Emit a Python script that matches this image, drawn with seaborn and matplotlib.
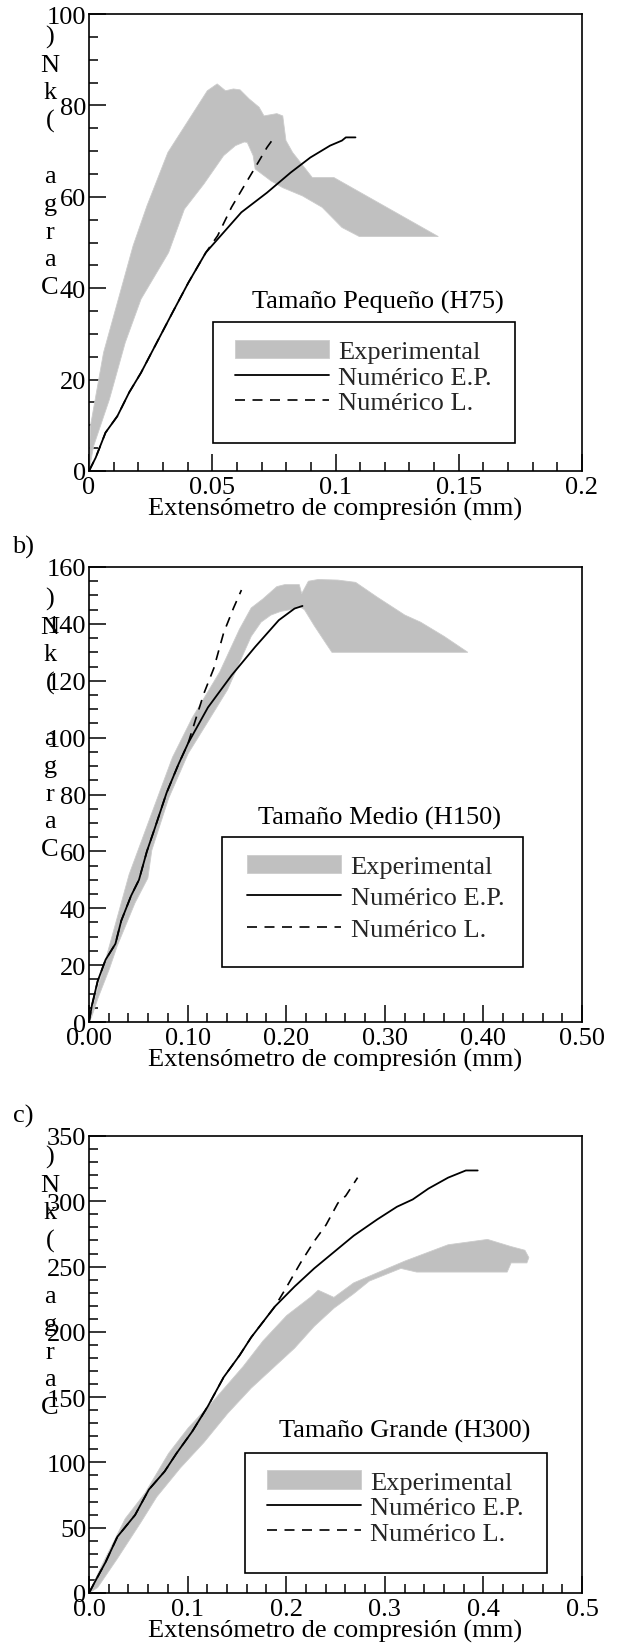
import numpy as np
import matplotlib
matplotlib.use("Agg")
import matplotlib.pyplot as plt
import seaborn as sns
from matplotlib.patches import Rectangle
from matplotlib.ticker import MultipleLocator, FixedLocator, FixedFormatter

sns.set_theme(style="white")
plt.rcParams['font.family'] = ['Liberation Serif', 'DejaVu Serif']

# ---------------- data ----------------
# Panel a) Tamaño Pequeño (H75)
p1_up_x = [0.0, 0.0006, 0.0059, 0.0179, 0.0235, 0.032, 0.048, 0.052, 0.0554, 0.0586, 0.0613, 0.065,
           0.069, 0.071, 0.0762, 0.0786, 0.0799, 0.0826, 0.0906, 0.0994, 0.1417]
p1_up_y = [0, 9.9, 25.9, 49.3, 58.0, 69.7, 83.2, 84.7, 83.2, 83.6, 83.4, 81.4,
           79.6, 77.7, 78.2, 77.7, 72.3, 69.7, 64.2, 64.2, 51.3]
p1_lo_x = [0.0, 0.0019, 0.0083, 0.0147, 0.0211, 0.0323, 0.0387, 0.0466, 0.0546, 0.0594, 0.0630,
           0.0642, 0.0666, 0.0674, 0.0738, 0.0786, 0.0866, 0.0946, 0.1026, 0.1097, 0.1417]
p1_lo_y = [0, 5.5, 15.7, 28.1, 37.6, 47.8, 57.3, 62.8, 69.0, 71.2, 72.0,
           71.9, 69.0, 66.1, 63.5, 62.0, 60.2, 57.7, 53.3, 51.3, 51.3]
p1_ep_x = [0.0, 0.0027, 0.0067, 0.0115, 0.0163, 0.0211, 0.0275, 0.0339, 0.0403, 0.0474, 0.0546,
           0.0618, 0.0722, 0.0818, 0.0898, 0.0978, 0.1026, 0.1042, 0.1081]
p1_ep_y = [0, 2.9, 8.4, 12.0, 17.2, 21.5, 28.1, 34.7, 41.2, 47.8, 52.2,
           56.6, 60.9, 65.3, 68.6, 71.2, 72.3, 73.0, 73.0]
p1_l_x = [0.0, 0.0027, 0.0067, 0.0115, 0.0163, 0.0211, 0.0275, 0.0339, 0.0403, 0.0474, 0.0522,
          0.0578, 0.0634, 0.0674, 0.0722, 0.0746]
p1_l_y = [0, 2.9, 8.4, 12.0, 17.2, 21.5, 28.1, 34.7, 41.2, 47.8, 51.5,
          57.7, 62.8, 66.4, 70.8, 72.6]

# Panel b) Tamaño Medio (H150)
p2_up_x = [0.0, 0.0048, 0.0208, 0.0407, 0.0647, 0.0847, 0.1046, 0.1326, 0.1526, 0.1645, 0.1765,
           0.1905, 0.1985, 0.2133, 0.2157, 0.2225, 0.2324, 0.2524, 0.2704, 0.2923, 0.3203,
           0.3363, 0.3602, 0.3842]
p2_up_y = [0, 6.9, 26.9, 51.9, 74.4, 93.1, 106.9, 123.1, 138.1, 145.6, 148.8,
           153.1, 153.8, 153.8, 150.6, 155.0, 155.6, 155.4, 154.6, 149.4, 143.1,
           140.6, 135.6, 130.0]
p2_lo_x = [0.0, 0.0028, 0.0088, 0.0208, 0.0288, 0.0467, 0.0597, 0.0637, 0.0807, 0.1006, 0.1206,
           0.1406, 0.1565, 0.1645, 0.1745, 0.1845, 0.1945, 0.2045, 0.2125, 0.2185, 0.2284,
           0.2404, 0.2464, 0.3842]
p2_lo_y = [0, 1.9, 8.1, 18.8, 26.9, 41.9, 50.6, 60.4, 78.6, 94.4, 105.6,
           116.9, 129.4, 135.6, 140.6, 143.1, 144.4, 145.0, 146.3, 145.0, 139.4,
           133.1, 130.0, 130.0]
p2_ep_x = [0.0, 0.0028, 0.0088, 0.0168, 0.0268, 0.0327, 0.0427, 0.0507, 0.0587, 0.0667, 0.0787,
           0.0907, 0.1006, 0.1206, 0.1446, 0.1685, 0.1925, 0.2085, 0.2165]
p2_ep_y = [0, 5.6, 14.4, 21.9, 27.5, 35.6, 44.4, 50.0, 60.0, 68.1, 80.6,
           90.6, 98.1, 110.6, 121.9, 131.9, 141.3, 145.4, 146.3]
p2_l_x = [0.0, 0.0028, 0.0088, 0.0168, 0.0268, 0.0327, 0.0427, 0.0507, 0.0587, 0.0667, 0.0787,
          0.0907, 0.1006, 0.1086, 0.1166, 0.1266, 0.1366, 0.1466, 0.1546]
p2_l_y = [0, 5.6, 14.4, 21.9, 27.5, 35.6, 44.4, 50.0, 60.0, 68.1, 80.6,
          90.6, 98.1, 106.9, 115.6, 124.4, 136.9, 145.6, 151.9]

# Panel c) Tamaño Grande (H300)
p3_up_x = [0.0, 0.0128, 0.0367, 0.0567, 0.0807, 0.1006, 0.1246, 0.1565, 0.1765, 0.2005, 0.2244,
           0.2324, 0.2404, 0.2484, 0.2684, 0.3203, 0.3642, 0.4042, 0.4281, 0.4421, 0.4461, 0.4441]
p3_up_y = [0, 20.8, 56.9, 76.4, 106.9, 126.4, 145.8, 173.6, 193.1, 212.5, 226.4,
           231.9, 229.2, 226.4, 237.5, 254.2, 266.7, 270.8, 265.3, 262.5, 256.9, 252.8]
p3_lo_x = [0.0, 0.0088, 0.0288, 0.0527, 0.0687, 0.0927, 0.1166, 0.1406, 0.1645, 0.1885, 0.2085,
           0.2284, 0.2484, 0.2684, 0.2843, 0.3163, 0.3323, 0.4241, 0.4281]
p3_lo_y = [0, 4.2, 26.4, 54.2, 73.6, 95.8, 115.3, 137.5, 156.9, 173.6, 187.5,
           204.2, 218.1, 229.2, 238.9, 248.6, 245.8, 245.8, 252.8]
p3_ep_x = [0.0, 0.0068, 0.0168, 0.0288, 0.0467, 0.0607, 0.0767, 0.0887, 0.1046, 0.1206, 0.1366,
           0.1526, 0.1645, 0.1885, 0.2085, 0.2284, 0.2484, 0.2684, 0.2923, 0.3123, 0.3283,
           0.3442, 0.3642, 0.3822, 0.3942]
p3_ep_y = [0, 9.7, 23.6, 43.1, 59.7, 79.2, 93.1, 106.9, 123.6, 143.1, 165.3,
           181.9, 195.8, 219.4, 234.7, 248.6, 261.1, 273.6, 286.1, 295.8, 301.4,
           309.7, 318.1, 323.6, 323.6]
p3_l_x = [0.0, 0.0068, 0.0168, 0.0288, 0.0467, 0.0607, 0.0767, 0.0887, 0.1046, 0.1206, 0.1366,
          0.1526, 0.1645, 0.1885, 0.1985, 0.2145, 0.2284, 0.2404, 0.2524, 0.2604, 0.2724]
p3_l_y = [0, 9.7, 23.6, 43.1, 59.7, 79.2, 93.1, 106.9, 123.6, 143.1, 165.3,
          181.9, 195.8, 219.4, 231.9, 252.8, 269.4, 281.9, 298.6, 304.2, 318.1]

series_names = ["Experimental", "Numérico E.P.", "Numérico L."]
titles = ["Tamaño Pequeño (H75)", "Tamaño Medio (H150)", "Tamaño Grande (H300)"]
panel_tags = ["", "b)", "c)"]
x_ticklabels = [["0", "0.05", "0.1", "0.15", "0.2"],
                ["0.00", "0.10", "0.20", "0.30", "0.40", "0.50"],
                ["0.0", "0.1", "0.2", "0.3", "0.4", "0.5"]]
y_ticks = [[0, 20, 40, 60, 80, 100],
           [0, 20, 40, 60, 80, 100, 120, 140, 160],
           [0, 50, 100, 150, 200, 250, 300, 350]]
x_label = "Extensómetro de compresión (mm)"
y_label = "Carga (kN)"

# ---------------- layout ----------------
W, H = 617, 1649
fig = plt.figure(figsize=(W / 100, H / 100), dpi=100)
GRAY = '#c0c0c0'
FS = 19
TFS = 19

cfg = [
    dict(box=(89, 15, 582, 472), xlim=(0, 0.2), ylim=(0, 100), xmaj=0.05, xmin=0.01, ymin=5,
         data=(p1_up_x, p1_up_y, p1_lo_x, p1_lo_y, p1_ep_x, p1_ep_y, p1_l_x, p1_l_y),
         title_xy=(0.586, 0.372), rect=(0.2516, 0.062, 0.612, 0.264), leg_xy=(0.296, 0.287),
         lsp=0.08, ylab_off=11),
    dict(box=(89, 568, 582, 1023), xlim=(0, 0.5), ylim=(0, 160), xmaj=0.1, xmin=0.02, ymin=5,
         data=(p2_up_x, p2_up_y, p2_lo_x, p2_lo_y, p2_ep_x, p2_ep_y, p2_l_x, p2_l_y),
         title_xy=(0.589, 0.449), rect=(0.269, 0.12, 0.611, 0.286), leg_xy=(0.321, 0.368),
         lsp=0.3, ylab_off=20),
    dict(box=(89, 1137, 582, 1594), xlim=(0, 0.5), ylim=(0, 350), xmaj=0.1, xmin=0.02, ymin=10,
         data=(p3_up_x, p3_up_y, p3_lo_x, p3_lo_y, p3_ep_x, p3_ep_y, p3_l_x, p3_l_y),
         title_xy=(0.641, 0.355), rect=(0.317, 0.044, 0.613, 0.262), leg_xy=(0.361, 0.269),
         lsp=0.08, ylab_off=9),
]

for i, c in enumerate(cfg):
    l, t, r, b = c['box']
    ax = fig.add_axes([l / W, 1 - b / H, (r - l) / W, (b - t) / H])
    ux, uy, lx, ly, ex, ey, nx, ny = c['data']
    # experimental band as polygon (upper edge then lower edge backwards)
    bx = list(ux) + list(lx)[::-1]
    by = list(uy) + list(ly)[::-1]
    ax.fill(bx, by, color=GRAY, lw=0.6, ec='#cccccc', label=series_names[0], zorder=1)
    sns.lineplot(x=ex, y=ey, ax=ax, color='black', lw=1.3, sort=False, estimator=None,
                 label=series_names[1], zorder=3)
    sns.lineplot(x=nx, y=ny, ax=ax, color='black', lw=1.2, sort=False, estimator=None,
                 label=series_names[2], zorder=4)
    ax.lines[-1].set_linestyle((0, (6, 4.5)))

    ax.set_xlim(*c['xlim'])
    ax.set_ylim(*c['ylim'])
    xt = x_ticklabels[i]
    xticks = [c['xlim'][0] + k * c['xmaj'] for k in range(len(xt))]
    ax.xaxis.set_major_locator(FixedLocator(xticks))
    ax.xaxis.set_major_formatter(FixedFormatter(xt))
    ax.xaxis.set_minor_locator(MultipleLocator(c['xmin']))
    ax.yaxis.set_major_locator(FixedLocator(y_ticks[i]))
    ax.yaxis.set_major_formatter(FixedFormatter([str(v) for v in y_ticks[i]]))
    ax.yaxis.set_minor_locator(MultipleLocator(c['ymin']))
    ax.tick_params(which='both', direction='in', bottom=True, left=True, top=False, right=False,
                   color='black', width=1.1)
    ax.tick_params(which='major', length=12, labelsize=TFS, labelcolor='black')
    ax.tick_params(axis='x', which='major', pad=3.5)
    ax.tick_params(axis='y', which='major', pad=2)
    ax.tick_params(which='minor', length=6.5)
    for s in ax.spines.values():
        s.set_visible(True)
        s.set_color('black')
        s.set_linewidth(1.2)
    ax.set_xlabel(x_label, fontsize=FS, color='black', labelpad=-1)
    ax.set_ylabel("")
    ax.set_facecolor('white')

    # title inside axes
    ax.text(c['title_xy'][0], c['title_xy'][1], titles[i], transform=ax.transAxes,
            ha='center', va='center', fontsize=FS, color='black')
    # legend frame
    rx, ry, rw, rh = c['rect']
    ax.add_patch(Rectangle((rx, ry), rw, rh, transform=ax.transAxes, fill=False,
                           ec='black', lw=1.2, zorder=5))
    handles, labels = ax.get_legend_handles_labels()
    order = [labels.index(n) for n in series_names]
    ax.legend([handles[k] for k in order], [labels[k] for k in order],
              loc='upper left', bbox_to_anchor=c['leg_xy'], bbox_transform=ax.transAxes,
              frameon=False, fontsize=FS, borderpad=0, borderaxespad=0,
              handlelength=3.56, handleheight=0.7, handletextpad=0.36,
              labelspacing=c['lsp'])

    # stacked y-label characters (as in the reference)
    fig.text(50 / W, 1 - (t + c['ylab_off']) / H, "\n".join(y_label[::-1]), ha='center', va='top',
             fontsize=FS, color='black', linespacing=1.33)
    if panel_tags[i]:
        fig.text(23 / W, 1 - (t - 21) / H, panel_tags[i], ha='center', va='center',
                 fontsize=FS, color='black')

fig.savefig("out.png", dpi=100, facecolor='white')
